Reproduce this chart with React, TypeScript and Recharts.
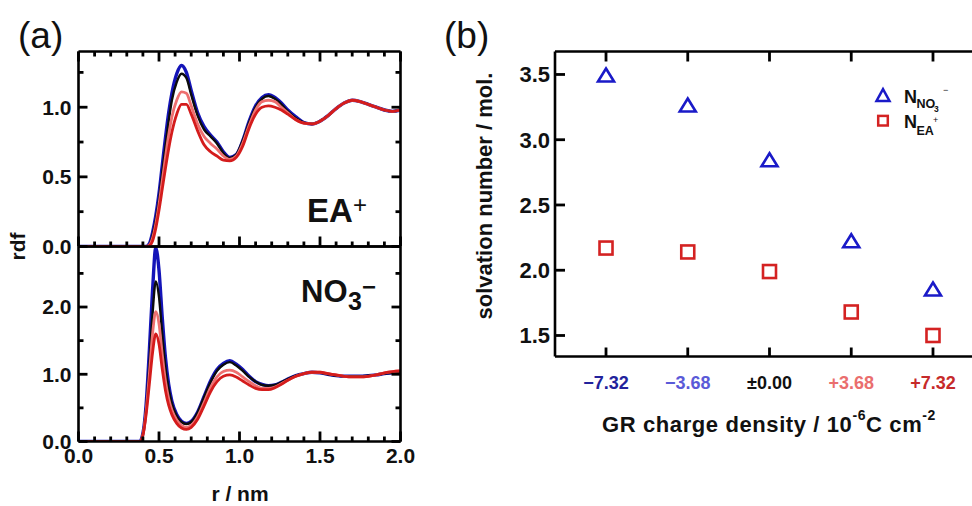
import React from 'react';
import { ComposedChart, Line, XAxis, YAxis, ScatterChart, Scatter } from 'recharts';

const FONT = '"Liberation Sans", Arial, Helvetica, sans-serif';

// ---- (a) radial distribution functions around the graphene sheet ----
const rNm = [
  0.0, 0.3, 0.36, 0.38, 0.4, 0.42, 0.44, 0.46, 0.48, 0.5, 0.52, 0.54, 0.56, 0.58, 0.61, 0.64,
  0.67, 0.7, 0.74, 0.78, 0.82, 0.86, 0.9, 0.94, 0.98, 1.02, 1.06, 1.1, 1.14, 1.18, 1.22, 1.26,
  1.3, 1.35, 1.4, 1.45, 1.5, 1.55, 1.6, 1.65, 1.7, 1.75, 1.8, 1.85, 1.9, 1.95, 2.0,
];

// EA+ rdf, one list per GR charge density
const eaMinus732 = [
  0, 0, 0, 0, 0, 0, 0.02, 0.1, 0.22, 0.38, 0.58, 0.78, 0.96, 1.1, 1.24, 1.3,
  1.25, 1.12, 0.96, 0.86, 0.8, 0.75, 0.68, 0.64, 0.66, 0.76, 0.9, 1.01, 1.07, 1.09, 1.07, 1.03,
  0.98, 0.93, 0.89, 0.88, 0.9, 0.94, 0.99, 1.03, 1.05, 1.04, 1.02, 1.0, 0.98, 0.97, 0.98,
];
const eaZero = [
  0, 0, 0, 0, 0, 0, 0.01, 0.08, 0.19, 0.34, 0.53, 0.72, 0.9, 1.05, 1.18, 1.24,
  1.21, 1.09, 0.94, 0.84, 0.79, 0.74, 0.67, 0.635, 0.66, 0.76, 0.89, 1.0, 1.06, 1.08, 1.06, 1.02,
  0.97, 0.92, 0.89, 0.88, 0.9, 0.94, 0.99, 1.03, 1.05, 1.04, 1.02, 1.0, 0.98, 0.97, 0.98,
];
const eaPlus368 = [
  0, 0, 0, 0, 0, 0, 0.01, 0.06, 0.16, 0.3, 0.47, 0.64, 0.8, 0.93, 1.05, 1.11,
  1.1, 1.01, 0.88, 0.79, 0.74, 0.7, 0.65, 0.625, 0.65, 0.74, 0.87, 0.98, 1.04, 1.05, 1.04, 1.0,
  0.96, 0.91, 0.885, 0.88, 0.9, 0.94, 0.99, 1.03, 1.05, 1.04, 1.02, 1.0, 0.98, 0.97, 0.98,
];
const eaPlus732 = [
  0, 0, 0, 0, 0, 0, 0.005, 0.04, 0.13, 0.26, 0.41, 0.56, 0.7, 0.82, 0.95, 1.02,
  1.02, 0.95, 0.83, 0.73, 0.68, 0.65, 0.62, 0.615, 0.64, 0.72, 0.85, 0.95, 1.0, 1.01, 1.0, 0.98,
  0.95, 0.91, 0.885, 0.88, 0.9, 0.94, 0.99, 1.03, 1.05, 1.04, 1.02, 1.0, 0.98, 0.97, 0.98,
];

// NO3- rdf, one list per GR charge density
const no3Minus732 = [
  0, 0, 0, 0, 0.12, 0.55, 1.35, 2.25, 2.88, 2.55, 1.85, 1.25, 0.85, 0.6, 0.4, 0.3,
  0.27, 0.3, 0.44, 0.67, 0.9, 1.07, 1.16, 1.2, 1.15, 1.07, 0.97, 0.89, 0.85, 0.83, 0.84, 0.88,
  0.93, 0.98, 1.01, 1.03, 1.02, 1.0, 0.98, 0.97, 0.97, 0.97, 0.98, 0.99, 1.01, 1.02, 1.03,
];
const no3Zero = [
  0, 0, 0, 0, 0.11, 0.5, 1.15, 1.9, 2.38, 2.15, 1.6, 1.1, 0.78, 0.56, 0.38, 0.29,
  0.26, 0.29, 0.43, 0.66, 0.88, 1.05, 1.14, 1.18, 1.13, 1.05, 0.96, 0.89, 0.84, 0.83, 0.84, 0.88,
  0.93, 0.98, 1.01, 1.03, 1.02, 1.0, 0.98, 0.97, 0.97, 0.97, 0.98, 0.99, 1.01, 1.02, 1.03,
];
const no3Plus368 = [
  0, 0, 0, 0, 0.1, 0.45, 1.0, 1.6, 1.93, 1.75, 1.3, 0.9, 0.64, 0.47, 0.32, 0.24,
  0.21, 0.24, 0.37, 0.58, 0.8, 0.96, 1.04, 1.06, 1.03, 0.96, 0.89, 0.83, 0.79, 0.79, 0.81, 0.86,
  0.91, 0.97, 1.01, 1.03, 1.03, 1.01, 0.99, 0.97, 0.96, 0.96, 0.97, 0.99, 1.02, 1.04, 1.05,
];
const no3Plus732 = [
  0, 0, 0, 0, 0.09, 0.4, 0.85, 1.32, 1.6, 1.45, 1.08, 0.76, 0.54, 0.4, 0.27, 0.2,
  0.18, 0.21, 0.33, 0.53, 0.74, 0.89, 0.97, 0.99, 0.96, 0.9, 0.84, 0.79, 0.77, 0.77, 0.8, 0.85,
  0.91, 0.97, 1.01, 1.03, 1.03, 1.01, 0.99, 0.97, 0.96, 0.96, 0.97, 0.99, 1.02, 1.04, 1.05,
];

// ---- (b) solvation numbers vs GR charge density ----
const chargeLabels = ['\u22127.32', '\u22123.68', '\u00b10.00', '+3.68', '+7.32'];
const chargeColors = ['#22229c', '#5a5ad8', '#111111', '#ea6e6e', '#c62a2a'];
const nNO3 = [3.5, 3.27, 2.85, 2.23, 1.86];
const nEA = [2.17, 2.14, 1.99, 1.68, 1.5];

// axis ticks (majors get labels and longer marks)
const rTicks = [0, 0.1, 0.2, 0.3, 0.4, 0.5, 0.6, 0.7, 0.8, 0.9, 1.0, 1.1, 1.2, 1.3, 1.4, 1.5, 1.6, 1.7, 1.8, 1.9, 2.0];
const eaTicks = [0, 0.25, 0.5, 0.75, 1.0, 1.25];
const no3Ticks = [0, 0.5, 1.0, 1.5, 2.0, 2.5];
const chargeTicks = [0, 1, 2, 3, 4];
const nTicks = [1.5, 2.0, 2.5, 3.0, 3.5];

const R_DOMAIN: [number, number] = [0, 2];
const EA_DOMAIN: [number, number] = [0, 1.4];
const NO3_DOMAIN: [number, number] = [0, 2.9];
const Q_DOMAIN: [number, number] = [-0.624, 4.624];
const N_DOMAIN: [number, number] = [1.339, 3.676];

const series = [
  { key: 'm732', color: '#1414b8', width: 3.4 },
  { key: 'zero', color: '#0c0c0c', width: 2.4 },
  { key: 'p368', color: '#ee7070', width: 2.8 },
  { key: 'p732', color: '#d41c1c', width: 2.8 },
];

const eaRows = rNm.map((r, i) => ({ r, m732: eaMinus732[i], zero: eaZero[i], p368: eaPlus368[i], p732: eaPlus732[i] }));
const no3Rows = rNm.map((r, i) => ({ r, m732: no3Minus732[i], zero: no3Zero[i], p368: no3Plus368[i], p732: no3Plus732[i] }));
const no3Points = nNO3.map((y, i) => ({ x: chargeTicks[i], y }));
const eaPoints = nEA.map((y, i) => ({ x: chargeTicks[i], y }));

const AXIS = { stroke: '#000', strokeWidth: 2.6 };
const noLabel = () => <g />;

type Side = 'top' | 'bottom' | 'left' | 'right';
type TickCfg = {
  side: Side;
  step: number;
  major: number;
  minor: number;
  text?: (v: number, i: number) => string | null;
  fill?: (i: number) => string;
  gap?: number;
  size?: number;
};

// Inward-pointing frame tick at the axis' own tick coordinate, with an optional label outside
const makeTick = (c: TickCfg) => (p: any) => {
  const x = Number(p.x);
  const y = Number(p.y);
  const index = Number(p.index);
  const v = Number(p.payload.value);
  const isMajor = Math.abs(v / c.step - Math.round(v / c.step)) < 1e-6;
  const len = isMajor ? c.major : c.minor;
  const dx = c.side === 'left' ? len : c.side === 'right' ? -len : 0;
  const dy = c.side === 'bottom' ? -len : c.side === 'top' ? len : 0;
  const label = isMajor && c.text ? c.text(v, index) : null;
  const fill = c.fill ? c.fill(index) : '#111';
  const gap = c.gap ?? 0;
  return (
    <g>
      {len > 0 && <path d={`M${x},${y}L${x + dx},${y + dy}`} stroke="#000" strokeWidth={2.8} fill="none" />}
      {label &&
        (c.side === 'bottom' ? (
          <text x={x} y={y + gap} textAnchor="middle" fontFamily={FONT} fontWeight={700} fontSize={c.size} fill={fill}>
            {label}
          </text>
        ) : (
          <text x={x - gap} y={y} dy="0.355em" textAnchor="end" fontFamily={FONT} fontWeight={700} fontSize={c.size} fill={fill}>
            {label}
          </text>
        ))}
    </g>
  );
};

const fmt1 = (v: number) => v.toFixed(1);
const common = { tickLine: false, tickSize: 0, tickMargin: 0, interval: 0 as const, axisLine: AXIS, allowDataOverflow: true };

const triangleShape = (p: any) => {
  const cx = Number(p.cx);
  const cy = Number(p.cy);
  return (
    <path d={`M${cx},${cy - 6} L${cx + 8},${cy + 7} L${cx - 8},${cy + 7} Z`} fill="none" stroke="#1a1ac8" strokeWidth={2.6} />
  );
};
const squareShape = (p: any) => {
  const cx = Number(p.cx);
  const cy = Number(p.cy);
  return <rect x={cx - 6.5} y={cy - 6.5} width={13} height={13} fill="none" stroke="#d42222" strokeWidth={2.6} />;
};

function RdfLines() {
  return series.map((s) => (
    <Line
      key={s.key}
      xAxisId="b"
      yAxisId="l"
      dataKey={s.key}
      type="monotone"
      stroke={s.color}
      strokeWidth={s.width}
      dot={false}
      activeDot={false}
      isAnimationActive={false}
    />
  ));
}

export default function App() {
  return (
    <div style={{ position: 'absolute', left: 0, top: 0, width: 972, height: 506, overflow: 'hidden', background: '#fff' }}>
      {/* (a) lower panel: NO3- */}
      <div style={{ position: 'absolute', left: 0, top: 0 }}>
        <ComposedChart width={425} height={506} data={no3Rows} margin={{ top: 245.5, right: 23.5, bottom: 63.5, left: 0 }}>
          <XAxis
            xAxisId="b"
            dataKey="r"
            type="number"
            domain={R_DOMAIN}
            ticks={rTicks}
            height={1}
            {...common}
            tick={makeTick({ side: 'bottom', step: 0.5, major: 10, minor: 5, text: fmt1, gap: 21.5, size: 21 })}
          />
          <XAxis xAxisId="t" orientation="top" dataKey="r" type="number" domain={R_DOMAIN} height={1} {...common} tick={noLabel} />
          <YAxis
            yAxisId="l"
            dataKey="m732"
            type="number"
            domain={NO3_DOMAIN}
            ticks={no3Ticks}
            width={78.5}
            {...common}
            tick={makeTick({ side: 'left', step: 1, major: 9, minor: 5, text: fmt1, gap: 7, size: 21 })}
          />
          <YAxis
            yAxisId="r"
            orientation="right"
            dataKey="m732"
            type="number"
            domain={NO3_DOMAIN}
            ticks={no3Ticks}
            width={1}
            {...common}
            tick={makeTick({ side: 'right', step: 1, major: 9, minor: 5 })}
          />
          {RdfLines()}
        </ComposedChart>
      </div>

      {/* (a) upper panel: EA+ */}
      <div style={{ position: 'absolute', left: 0, top: 0 }}>
        <ComposedChart width={425} height={260} data={eaRows} margin={{ top: 50.5, right: 23.5, bottom: 12.5, left: 0 }}>
          <XAxis
            xAxisId="b"
            dataKey="r"
            type="number"
            domain={R_DOMAIN}
            ticks={rTicks}
            height={1}
            {...common}
            tick={makeTick({ side: 'bottom', step: 0.5, major: 10, minor: 5 })}
          />
          <XAxis
            xAxisId="t"
            orientation="top"
            dataKey="r"
            type="number"
            domain={R_DOMAIN}
            ticks={rTicks}
            height={1}
            {...common}
            tick={makeTick({ side: 'top', step: 0.5, major: 10, minor: 5 })}
          />
          <YAxis
            yAxisId="l"
            dataKey="m732"
            type="number"
            domain={EA_DOMAIN}
            ticks={eaTicks}
            width={78.5}
            {...common}
            tick={makeTick({ side: 'left', step: 0.5, major: 9, minor: 5, text: fmt1, gap: 7, size: 21 })}
          />
          <YAxis
            yAxisId="r"
            orientation="right"
            dataKey="m732"
            type="number"
            domain={EA_DOMAIN}
            ticks={eaTicks}
            width={1}
            {...common}
            tick={makeTick({ side: 'right', step: 0.5, major: 9, minor: 5 })}
          />
          {RdfLines()}
        </ComposedChart>
      </div>

      {/* (b) solvation numbers */}
      <div style={{ position: 'absolute', left: 440, top: 0 }}>
        <ScatterChart width={560} height={506} margin={{ top: 50.5, right: 15, bottom: 148.5, left: 0 }}>
          <XAxis
            xAxisId="b"
            dataKey="x"
            type="number"
            domain={Q_DOMAIN}
            ticks={chargeTicks}
            height={1}
            {...common}
            tick={makeTick({
              side: 'bottom',
              step: 1,
              major: 9,
              minor: 0,
              text: (_v, i) => chargeLabels[i],
              fill: (i) => chargeColors[i],
              gap: 32.5,
              size: 18,
            })}
          />
          <XAxis
            xAxisId="t"
            orientation="top"
            dataKey="x"
            type="number"
            domain={Q_DOMAIN}
            ticks={chargeTicks}
            height={1}
            {...common}
            tick={makeTick({ side: 'top', step: 1, major: 10, minor: 0 })}
          />
          <YAxis
            yAxisId="l"
            dataKey="y"
            type="number"
            domain={N_DOMAIN}
            ticks={nTicks}
            width={115}
            {...common}
            tick={makeTick({ side: 'left', step: 0.5, major: 10, minor: 0, text: fmt1, gap: 5, size: 22 })}
          />
          <YAxis
            yAxisId="r"
            orientation="right"
            dataKey="y"
            type="number"
            domain={N_DOMAIN}
            ticks={nTicks}
            width={1}
            {...common}
            tick={makeTick({ side: 'right', step: 0.5, major: 10, minor: 0 })}
          />
          <Scatter xAxisId="b" yAxisId="l" name="NNO3-" data={no3Points} dataKey="y" shape={triangleShape} isAnimationActive={false} />
          <Scatter xAxisId="b" yAxisId="l" name="NEA+" data={eaPoints} dataKey="y" shape={squareShape} isAnimationActive={false} />
        </ScatterChart>
      </div>

      {/* titles, annotations and legend */}
      <svg width={972} height={506} style={{ position: 'absolute', left: 0, top: 0, pointerEvents: 'none' }} fontFamily={FONT}>
        <text x={18} y={48} fontSize={37} fill="#111">(a)</text>
        <text x={444} y={48} fontSize={37} fill="#111">(b)</text>

        <text x={17.5} y={246.5} dy="0.355em" transform="rotate(-90 17.5 246.5)" textAnchor="middle" fontSize={21} fontWeight={700} fill="#111">
          rdf
        </text>
        <text x={240} y={501} textAnchor="middle" fontSize={21} fontWeight={700} fill="#111">
          r / nm
        </text>

        <text x={307} y={222} fontSize={33} fontWeight={700} fill="#111">EA</text>
        <text x={353} y={213} fontSize={24} fill="#111">+</text>
        <text x={301} y={302} fontSize={31} fontWeight={700} fill="#111">NO</text>
        <text x={348} y={310} fontSize={25} fontWeight={700} fill="#111">3</text>
        <text x={362} y={295} fontSize={24} fontWeight={700} fill="#111">{'\u2212'}</text>

        <text x={484} y={196} dy="0.355em" transform="rotate(-90 484 196)" textAnchor="middle" fontSize={22} fontWeight={700} fill="#111">
          solvation number / mol.
        </text>
        <text x={769} y={431.5} textAnchor="middle" fontSize={22} letterSpacing={0.6} fontWeight={700} fill="#111">
          GR charge density / 10
          <tspan fontSize={14} dy={-12}>-6</tspan>
          <tspan dy={12}>C cm</tspan>
          <tspan fontSize={14} dy={-12}>-2</tspan>
        </text>

        {/* legend */}
        <path d="M883,89.2 L889.5,101 L876.5,101 Z" fill="none" stroke="#1a1ac8" strokeWidth={2.5} />
        <rect x={878.2} y={115.9} width={9.6} height={9.6} fill="none" stroke="#d42222" strokeWidth={2.5} />
        <text x={904} y={102.5} fontSize={18} fontWeight={700} fill="#111">N</text>
        <text x={916.5} y={108} fontSize={12.5} fontWeight={700} fill="#111">NO</text>
        <text x={934} y={112} fontSize={8.5} fontWeight={700} fill="#111">3</text>
        <text x={943} y={93} fontSize={9} fill="#111">{'\u2212'}</text>
        <text x={904} y={127.5} fontSize={18} fontWeight={700} fill="#111">N</text>
        <text x={916.5} y={135} fontSize={12.5} fontWeight={700} fill="#111">EA</text>
        <text x={933} y={123} fontSize={9} fill="#111">+</text>
      </svg>
    </div>
  );
}
